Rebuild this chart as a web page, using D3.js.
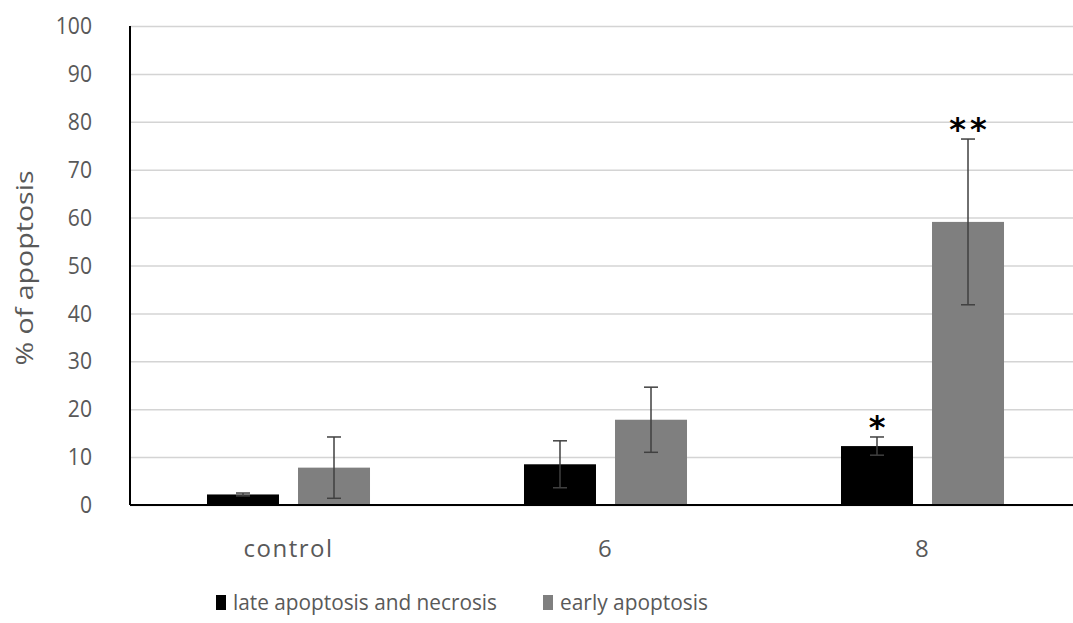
<!DOCTYPE html>
<html>
<head>
<meta charset="utf-8">
<script src="https://cdn.jsdelivr.net/npm/d3@7"></script>
<style>
  html, body { margin: 0; padding: 0; background: #fff; }
  svg { display: block; }
  text { font-family: "Open Sans", "Segoe UI", sans-serif; }
</style>
</head>
<body>
<svg id="chart" width="1073" height="623"></svg>
<script>
// Apoptosis percentages per treatment group (mean ± error)
const categories = ["control", "6", "8"];
const seriesNames = ["late apoptosis and necrosis", "early apoptosis"];
const lateValues = [2.2, 8.5, 12.3];
const lateErrors = [0.3, 4.9, 1.9];
const earlyValues = [7.8, 17.8, 59.1];
const earlyErrors = [6.4, 6.8, 17.3];
const lateMarks = ["", "", "*"];
const earlyMarks = ["", "", "**"];
const yTicks = [0, 10, 20, 30, 40, 50, 60, 70, 80, 90, 100];

const seriesColors = ["#000000", "#7f7f7f"];

const svg = d3.select("#chart");
const width = 1073, height = 623;

const y = d3.scaleLinear().domain([0, 100]).range([505, 26]);
const x0 = d3.scaleBand().domain(categories).range([130, 1081]).paddingInner(0).paddingOuter(0);
const x1 = d3.scaleBand().domain(seriesNames).range([0, x0.bandwidth()])
  .paddingInner(0.209).paddingOuter(0.846);

// Gridlines
svg.append("g")
  .attr("transform", "translate(130,0)")
  .call(d3.axisLeft(y).tickValues(yTicks).tickSize(-(width - 130)).tickFormat(""))
  .call(g => g.select(".domain").remove())
  .call(g => g.selectAll("line").attr("stroke", "#d4d4d4").attr("stroke-width", 1.5));

// Y tick labels (slightly condensed)
svg.append("g")
  .attr("transform", "translate(92,0)")
  .call(d3.axisLeft(y).tickValues(yTicks).tickSize(0).tickPadding(0))
  .call(g => g.select(".domain").remove())
  .call(g => g.selectAll("text")
    .attr("fill", "#595959")
    .style("font-size", "24px")
    .style("font-family", "'Open Sans', sans-serif")
    .attr("text-anchor", "end")
    .attr("transform", "scale(0.88,1)"));

// Y axis title
svg.append("text")
  .attr("transform", `translate(33,${268}) rotate(-90)`)
  .attr("text-anchor", "middle")
  .attr("fill", "#595959")
  .style("font-size", "23px")
  .attr("textLength", 195)
  .attr("lengthAdjust", "spacingAndGlyphs")
  .text("% of  apoptosis");

const rows = categories.map((c, i) => ({
  cat: c,
  items: [
    { s: seriesNames[0], v: lateValues[i], e: lateErrors[i], m: lateMarks[i], color: seriesColors[0] },
    { s: seriesNames[1], v: earlyValues[i], e: earlyErrors[i], m: earlyMarks[i], color: seriesColors[1] }
  ]
}));

const groups = svg.append("g").selectAll("g")
  .data(rows).join("g")
  .attr("transform", d => `translate(${x0(d.cat)},0)`);

// Bars
groups.selectAll("rect")
  .data(d => d.items).join("rect")
  .attr("x", d => x1(d.s))
  .attr("width", x1.bandwidth())
  .attr("y", d => y(d.v))
  .attr("height", d => y(0) - y(d.v))
  .attr("fill", d => d.color);

// Error bars
const eb = groups.selectAll("g.err")
  .data(d => d.items).join("g").attr("class", "err")
  .attr("transform", d => `translate(${x1(d.s) + x1.bandwidth() / 2},0)`);
eb.append("line")
  .attr("y1", d => y(d.v - d.e)).attr("y2", d => y(d.v + d.e))
  .attr("stroke", "#404040").attr("stroke-width", 1.5);
eb.append("line")
  .attr("x1", -7).attr("x2", 7)
  .attr("y1", d => y(d.v + d.e)).attr("y2", d => y(d.v + d.e))
  .attr("stroke", "#404040").attr("stroke-width", 1.5);
eb.append("line")
  .attr("x1", -7).attr("x2", 7)
  .attr("y1", d => y(d.v - d.e)).attr("y2", d => y(d.v - d.e))
  .attr("stroke", "#404040").attr("stroke-width", 1.5);

// Significance marks
eb.filter(d => d.m).append("text")
  .attr("text-anchor", "middle")
  .attr("x", 2)
  .attr("y", d => y(d.v + d.e) + 1)
  .attr("fill", "#000")
  .style("font-family", "'DejaVu Sans', sans-serif")
  .style("font-weight", "bold")
  .style("font-size", "32px")
  .style("letter-spacing", "4px")
  .text(d => d.m);

// Axis lines
svg.append("line")
  .attr("x1", 130).attr("x2", width)
  .attr("y1", y(0)).attr("y2", y(0))
  .attr("stroke", "#000").attr("stroke-width", 2);
svg.append("line")
  .attr("x1", 130).attr("x2", 130)
  .attr("y1", y(100)).attr("y2", y(0))
  .attr("stroke", "#000").attr("stroke-width", 2);

// Category labels
svg.append("g")
  .attr("transform", `translate(0,${y(0)})`)
  .call(d3.axisBottom(x0).tickSize(0).tickPadding(35))
  .call(g => g.select(".domain").remove())
  .call(g => g.selectAll("text")
    .attr("fill", "#595959")
    .style("font-size", "24px")
    .style("letter-spacing", "1.5px")
    .style("font-family", "'Open Sans', sans-serif"));

// Legend
const legendItems = [
  { name: seriesNames[0], color: seriesColors[0], x: 216, len: 264 },
  { name: seriesNames[1], color: seriesColors[1], x: 543, len: 148 }
];
const lg = svg.append("g").selectAll("g").data(legendItems).join("g")
  .attr("transform", d => `translate(${d.x},0)`);
lg.append("rect")
  .attr("x", 0).attr("y", 595).attr("width", 10).attr("height", 15)
  .attr("fill", d => d.color);
lg.append("text")
  .attr("x", 17).attr("y", 610)
  .attr("fill", "#595959")
  .style("font-size", "22px")
  .attr("textLength", d => d.len)
  .attr("lengthAdjust", "spacingAndGlyphs")
  .text(d => d.name);
</script>
</body>
</html>
